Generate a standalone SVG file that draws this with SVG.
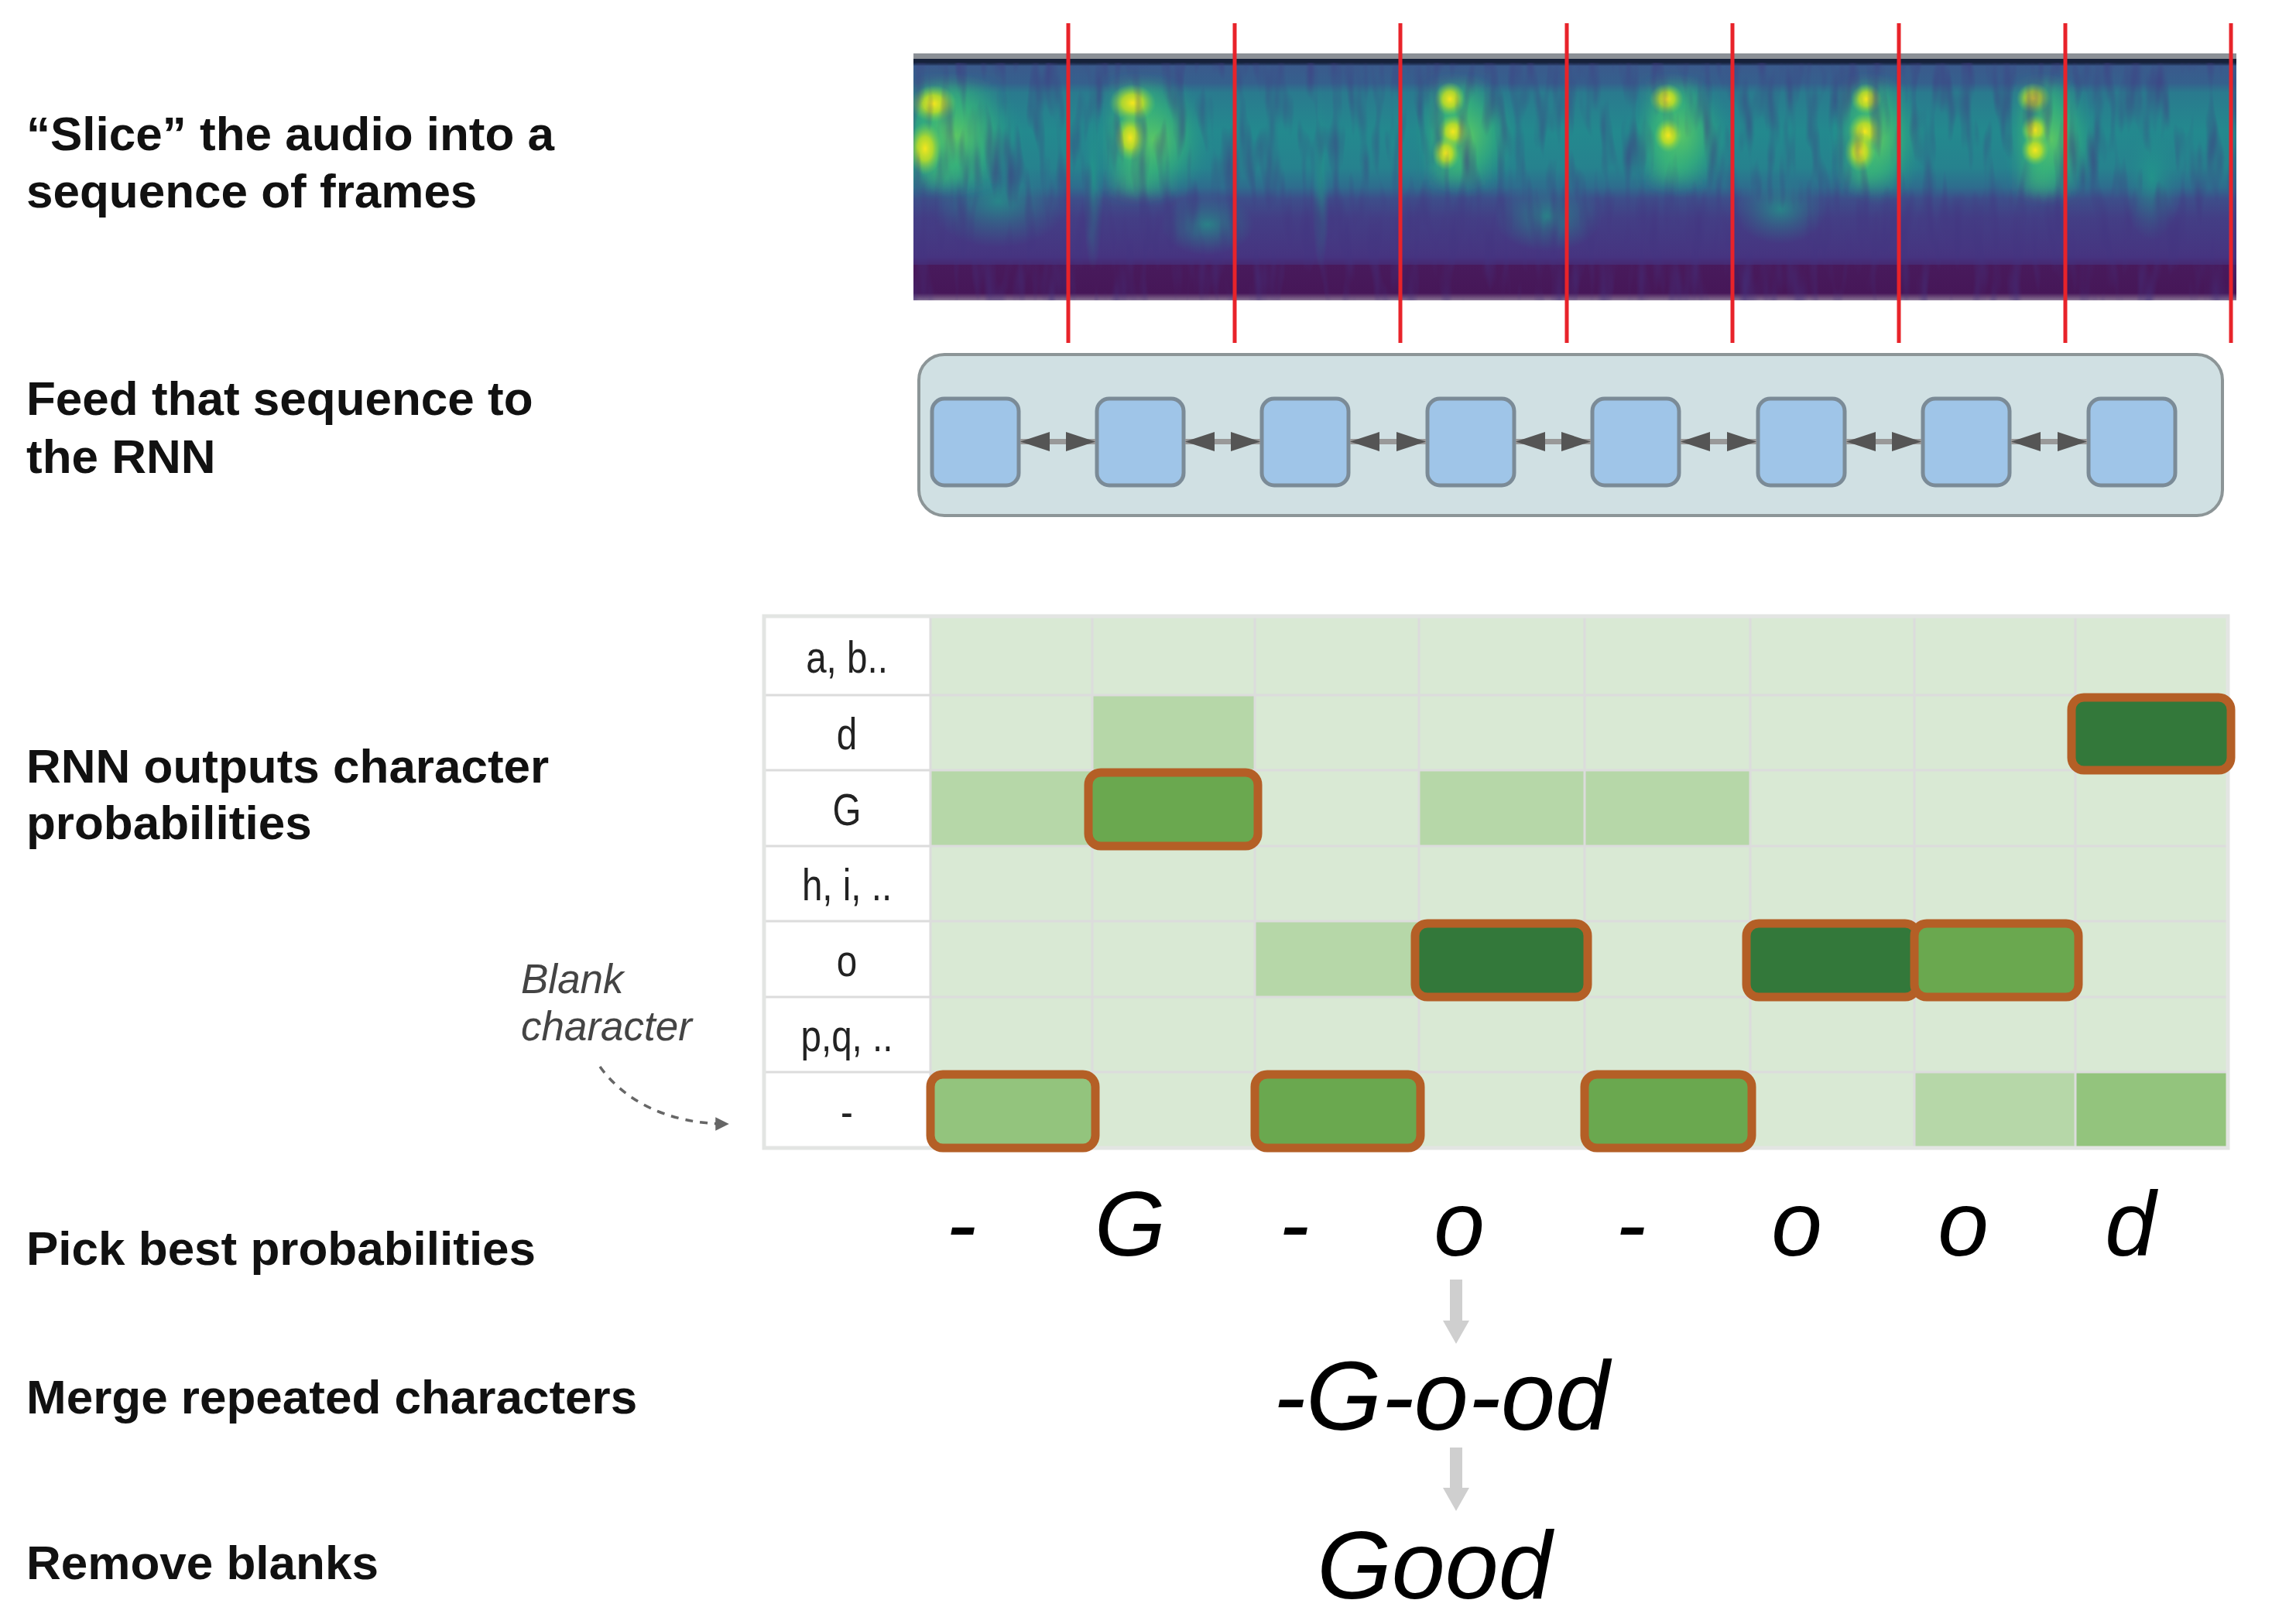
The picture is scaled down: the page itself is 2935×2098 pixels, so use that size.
<svg xmlns="http://www.w3.org/2000/svg" width="2935" height="2098" viewBox="0 0 2935 2098">
<style>
.lbl{font-family:"Liberation Sans",Arial,sans-serif;font-weight:bold;font-size:62px;fill:#111}
.note{font-family:"Liberation Sans",Arial,sans-serif;font-style:italic;font-size:53px;fill:#444}
.rowlbl{font-family:"Liberation Sans",Arial,sans-serif;font-size:58px;fill:#222;text-anchor:middle}
.out{font-family:"Liberation Sans",Arial,sans-serif;font-style:italic;fill:#000;text-anchor:middle}
.cell{stroke:none}
.L{fill:#d9e9d4}.ML{fill:#b6d7a8}.M{fill:#93c47d}.MD{fill:#6aa84f}.D{fill:#33783a}
.hl{stroke:#b45f26;stroke-width:11}
.rnncell{fill:#9fc5e8;stroke:#7b8b97;stroke-width:5}
.red{stroke:#e8232a;stroke-width:5}
.grid{stroke:#dcdcdc;stroke-width:3;fill:none}
.down{fill:#cfcfcf}
.band{fill:url(#vband);filter:url(#soft)}
</style>
<defs>
<linearGradient id="specBase" x1="0" y1="76" x2="0" y2="388" gradientUnits="userSpaceOnUse">
<stop offset="0" stop-color="#16203a"/>
<stop offset="0.02" stop-color="#1d2d4e"/>
<stop offset="0.03" stop-color="#3a5a8c"/>
<stop offset="0.10" stop-color="#35608d"/>
<stop offset="0.14" stop-color="#2a7a8e"/>
<stop offset="0.30" stop-color="#23898e"/>
<stop offset="0.45" stop-color="#26828e"/>
<stop offset="0.53" stop-color="#2e6d8e"/>
<stop offset="0.58" stop-color="#3d4e8a"/>
<stop offset="0.66" stop-color="#433e85"/>
<stop offset="0.82" stop-color="#463480"/>
<stop offset="0.85" stop-color="#481a5c"/>
<stop offset="0.97" stop-color="#461758"/>
<stop offset="1" stop-color="#8a7695"/>
</linearGradient>
<linearGradient id="vband" x1="0" y1="0" x2="1" y2="0">
<stop offset="0" stop-color="#35b779" stop-opacity="0"/>
<stop offset="0.35" stop-color="#4cc26c" stop-opacity="0.75"/>
<stop offset="0.6" stop-color="#3fbc73" stop-opacity="0.6"/>
<stop offset="1" stop-color="#35b779" stop-opacity="0"/>
</linearGradient>
<radialGradient id="burst">
<stop offset="0" stop-color="#5ec962" stop-opacity="0.9"/>
<stop offset="0.5" stop-color="#35b779" stop-opacity="0.55"/>
<stop offset="1" stop-color="#21918c" stop-opacity="0"/>
</radialGradient>
<radialGradient id="hot">
<stop offset="0" stop-color="#f4e61e" stop-opacity="1"/>
<stop offset="0.45" stop-color="#c2df23" stop-opacity="0.85"/>
<stop offset="1" stop-color="#6ece58" stop-opacity="0"/>
</radialGradient>
<radialGradient id="tealstreak">
<stop offset="0" stop-color="#1f9e89" stop-opacity="0.7"/>
<stop offset="1" stop-color="#26828e" stop-opacity="0"/>
</radialGradient>
<filter id="soft" x="-20%" y="-20%" width="140%" height="140%"><feGaussianBlur stdDeviation="10"/></filter>
<filter id="noise" x="0" y="0" width="100%" height="100%" color-interpolation-filters="sRGB">
<feTurbulence type="fractalNoise" baseFrequency="0.06 0.012" numOctaves="2" seed="7"/>
<feColorMatrix type="matrix" values="0 0 0 0 0.26  0 0 0 0 0.2  0 0 0 0 0.5  1.3 0 0 0 -0.6"/>
</filter>
<clipPath id="specClip"><rect x="1180" y="76" width="1709" height="312"/></clipPath>
<marker id="hd" viewBox="0 0 10 10" refX="9" refY="5" markerWidth="5" markerHeight="5" orient="auto"><path d="M0,0 L10,5 L0,10 z" fill="#666"/></marker>
</defs>

<g id="labels">
<g id="label-slice"><text class="lbl" x="34" y="194">“Slice” the audio into a</text><text class="lbl" x="34" y="268">sequence of frames</text></g>
<g id="label-feed"><text class="lbl" x="34" y="536">Feed that sequence to</text><text class="lbl" x="34" y="611">the RNN</text></g>
<g id="label-outputs"><text class="lbl" x="34" y="1011">RNN outputs character</text><text class="lbl" x="34" y="1084">probabilities</text></g>
<g id="label-pick"><text class="lbl" x="34" y="1634">Pick best probabilities</text></g>
<g id="label-merge"><text class="lbl" x="34" y="1826">Merge repeated characters</text></g>
<g id="label-remove"><text class="lbl" x="34" y="2040">Remove blanks</text></g>
<g id="label-blank"><text class="note" x="673" y="1283">Blank</text><text class="note" x="673" y="1344">character</text></g>
</g>

<g id="spectrogram">
<rect x="1180" y="69" width="1709" height="8" fill="#8b9096"/>
<g clip-path="url(#specClip)">
<rect x="1180" y="76" width="1709" height="312" fill="url(#specBase)"/>
<rect x="1180" y="330" width="1709" height="12" fill="#463480" opacity="0.6"/>
<ellipse cx="1412" cy="230" rx="14" ry="120" fill="url(#tealstreak)"/>
<ellipse cx="1706" cy="230" rx="12" ry="120" fill="url(#tealstreak)"/>
<ellipse cx="1560" cy="290" rx="60" ry="40" fill="url(#tealstreak)"/>
<ellipse cx="2000" cy="280" rx="70" ry="45" fill="url(#tealstreak)"/>
<ellipse cx="2300" cy="270" rx="60" ry="45" fill="url(#tealstreak)"/>
<ellipse cx="2780" cy="230" rx="40" ry="80" fill="url(#tealstreak)"/>
<ellipse cx="1290" cy="260" rx="90" ry="60" fill="url(#tealstreak)"/>
<rect class="band" x="1170" y="112" width="120" height="125"/>
<rect class="band" x="1430" y="112" width="90" height="135"/>
<rect class="band" x="1845" y="112" width="80" height="120"/>
<rect class="band" x="2125" y="112" width="80" height="120"/>
<rect class="band" x="2380" y="112" width="75" height="125"/>
<rect class="band" x="2605" y="112" width="75" height="135"/>
<ellipse cx="1235" cy="175" rx="90" ry="80" fill="url(#burst)"/>
<ellipse cx="1490" cy="180" rx="80" ry="85" fill="url(#burst)"/>
<ellipse cx="1895" cy="175" rx="70" ry="80" fill="url(#burst)"/>
<ellipse cx="2170" cy="175" rx="70" ry="80" fill="url(#burst)"/>
<ellipse cx="2425" cy="180" rx="65" ry="85" fill="url(#burst)"/>
<ellipse cx="2650" cy="180" rx="65" ry="85" fill="url(#burst)"/>
<ellipse cx="1206" cy="134" rx="30" ry="24" fill="url(#hot)"/>
<ellipse cx="1195" cy="192" rx="22" ry="34" fill="url(#hot)"/>
<ellipse cx="1463" cy="133" rx="30" ry="24" fill="url(#hot)"/>
<ellipse cx="1460" cy="178" rx="20" ry="30" fill="url(#hot)"/>
<ellipse cx="1873" cy="128" rx="20" ry="22" fill="url(#hot)"/>
<ellipse cx="1877" cy="170" rx="20" ry="22" fill="url(#hot)"/>
<ellipse cx="1868" cy="198" rx="18" ry="22" fill="url(#hot)"/>
<ellipse cx="2153" cy="128" rx="22" ry="20" fill="url(#hot)"/>
<ellipse cx="2155" cy="175" rx="18" ry="22" fill="url(#hot)"/>
<ellipse cx="2411" cy="128" rx="20" ry="20" fill="url(#hot)"/>
<ellipse cx="2409" cy="170" rx="22" ry="24" fill="url(#hot)"/>
<ellipse cx="2403" cy="196" rx="20" ry="26" fill="url(#hot)"/>
<ellipse cx="2627" cy="127" rx="22" ry="20" fill="url(#hot)"/>
<ellipse cx="2629" cy="168" rx="18" ry="20" fill="url(#hot)"/>
<ellipse cx="2629" cy="194" rx="18" ry="20" fill="url(#hot)"/>
<rect x="1180" y="76" width="1709" height="312" filter="url(#noise)"/>
<rect x="1180" y="76" width="1709" height="5" fill="#16213a"/>
</g>
</g>

<g id="frame-slices">
<line class="red" x1="1380" y1="30" x2="1380" y2="443"/>
<line class="red" x1="1595" y1="30" x2="1595" y2="443"/>
<line class="red" x1="1809" y1="30" x2="1809" y2="443"/>
<line class="red" x1="2024" y1="30" x2="2024" y2="443"/>
<line class="red" x1="2238" y1="30" x2="2238" y2="443"/>
<line class="red" x1="2453" y1="30" x2="2453" y2="443"/>
<line class="red" x1="2668" y1="30" x2="2668" y2="443"/>
<line class="red" x1="2882" y1="30" x2="2882" y2="443"/>
</g>

<g id="rnn">
<rect x="1187" y="458" width="1684" height="208" rx="33" fill="#d0e0e3" stroke="#8c9597" stroke-width="4"/>
<g id="rnn-cell-1"><rect class="rnncell" x="1204" y="515" width="112" height="112" rx="16"/></g>
<g id="rnn-cell-2"><rect class="rnncell" x="1417" y="515" width="112" height="112" rx="16"/></g>
<g id="rnn-cell-3"><rect class="rnncell" x="1630" y="515" width="112" height="112" rx="16"/></g>
<g id="rnn-cell-4"><rect class="rnncell" x="1844" y="515" width="112" height="112" rx="16"/></g>
<g id="rnn-cell-5"><rect class="rnncell" x="2057" y="515" width="112" height="112" rx="16"/></g>
<g id="rnn-cell-6"><rect class="rnncell" x="2271" y="515" width="112" height="112" rx="16"/></g>
<g id="rnn-cell-7"><rect class="rnncell" x="2484" y="515" width="112" height="112" rx="16"/></g>
<g id="rnn-cell-8"><rect class="rnncell" x="2698" y="515" width="112" height="112" rx="16"/></g>
</g>

<g id="grid">
<rect x="987" y="796" width="1891" height="687" fill="#d9e9d4"/>
<rect x="987" y="796" width="215" height="687" fill="#ffffff"/>
<rect class="cell ML" x="1411" y="898" width="210" height="97"/>
<rect class="cell ML" x="1202" y="995" width="209" height="98"/>
<rect class="cell ML" x="1833" y="995" width="214" height="98"/>
<rect class="cell ML" x="2047" y="995" width="214" height="98"/>
<rect class="cell ML" x="1621" y="1190" width="212" height="98"/>
<rect class="cell ML" x="2473" y="1385" width="208" height="98"/>
<rect class="cell M" x="2681" y="1385" width="197" height="98"/>
<g class="grid">
<line x1="1202" y1="796" x2="1202" y2="1483"/>
<line x1="1411" y1="796" x2="1411" y2="1483"/>
<line x1="1621" y1="796" x2="1621" y2="1483"/>
<line x1="1833" y1="796" x2="1833" y2="1483"/>
<line x1="2047" y1="796" x2="2047" y2="1483"/>
<line x1="2261" y1="796" x2="2261" y2="1483"/>
<line x1="2473" y1="796" x2="2473" y2="1483"/>
<line x1="2681" y1="796" x2="2681" y2="1483"/>
<line x1="987" y1="898" x2="2878" y2="898"/>
<line x1="987" y1="995" x2="2878" y2="995"/>
<line x1="987" y1="1093" x2="2878" y2="1093"/>
<line x1="987" y1="1190" x2="2878" y2="1190"/>
<line x1="987" y1="1288" x2="2878" y2="1288"/>
<line x1="987" y1="1385" x2="2878" y2="1385"/>
<rect x="987" y="796" width="1891" height="687" stroke="#e3e5e3" stroke-width="5"/>
</g>
<g id="row-labels">
<text class="rowlbl" transform="translate(1094 869) scale(0.82 1)">a, b..</text>
<text class="rowlbl" transform="translate(1094 968) scale(0.82 1)">d</text>
<text class="rowlbl" transform="translate(1094 1066) scale(0.82 1)">G</text>
<text class="rowlbl" transform="translate(1094 1163) scale(0.82 1)">h, i, ..</text>
<text class="rowlbl" transform="translate(1094 1261) scale(0.82 1)">o</text>
<text class="rowlbl" transform="translate(1094 1358) scale(0.82 1)">p,q, ..</text>
<text class="rowlbl" transform="translate(1094 1456) scale(0.82 1)">-</text>
</g>
<g id="best-picks">
<rect class="hl D" x="2676" y="901" width="206" height="94" rx="16"/>
<rect class="hl MD" x="1406" y="998" width="219" height="95" rx="16"/>
<rect class="hl D" x="1828" y="1193" width="223" height="95" rx="16"/>
<rect class="hl D" x="2256" y="1193" width="221" height="95" rx="16"/>
<rect class="hl MD" x="2473" y="1193" width="212" height="95" rx="16"/>
<rect class="hl M" x="1202" y="1388" width="213" height="95" rx="16"/>
<rect class="hl MD" x="1621" y="1388" width="214" height="95" rx="16"/>
<rect class="hl MD" x="2047" y="1388" width="216" height="95" rx="16"/>
</g>
</g>

<g id="best-sequence">
<text class="out" font-size="118" x="1242" y="1622">-</text>
<text class="out" font-size="118" x="1460" y="1622">G</text>
<text class="out" font-size="118" x="1672" y="1622">-</text>
<text class="out" font-size="118" x="1885" y="1622">o</text>
<text class="out" font-size="118" x="2107" y="1622">-</text>
<text class="out" font-size="118" x="2321" y="1622">o</text>
<text class="out" font-size="118" x="2536" y="1622">o</text>
<text class="out" font-size="118" x="2752" y="1622">d</text>
</g>
<g id="merged"><text class="out" font-size="126" x="1862" y="1847">-G-o-od</text></g>
<g id="result"><text class="out" font-size="124" x="1853" y="2065">Good</text></g>

<g id="connectors">
<g id="rnn-links" fill="#555">
<g id="link-1"><rect x="1318" y="567" width="97" height="7" fill="#999"/><path d="M1318,570.5 L1356,558 L1356,583 z"/><path d="M1415,570.5 L1377,558 L1377,583 z"/></g>
<g id="link-2"><rect x="1531" y="567" width="97" height="7" fill="#999"/><path d="M1531,570.5 L1569,558 L1569,583 z"/><path d="M1628,570.5 L1590,558 L1590,583 z"/></g>
<g id="link-3"><rect x="1744" y="567" width="98" height="7" fill="#999"/><path d="M1744,570.5 L1782,558 L1782,583 z"/><path d="M1842,570.5 L1804,558 L1804,583 z"/></g>
<g id="link-4"><rect x="1958" y="567" width="97" height="7" fill="#999"/><path d="M1958,570.5 L1996,558 L1996,583 z"/><path d="M2055,570.5 L2017,558 L2017,583 z"/></g>
<g id="link-5"><rect x="2171" y="567" width="98" height="7" fill="#999"/><path d="M2171,570.5 L2209,558 L2209,583 z"/><path d="M2269,570.5 L2231,558 L2231,583 z"/></g>
<g id="link-6"><rect x="2385" y="567" width="97" height="7" fill="#999"/><path d="M2385,570.5 L2423,558 L2423,583 z"/><path d="M2482,570.5 L2444,558 L2444,583 z"/></g>
<g id="link-7"><rect x="2598" y="567" width="98" height="7" fill="#999"/><path d="M2598,570.5 L2636,558 L2636,583 z"/><path d="M2696,570.5 L2658,558 L2658,583 z"/></g>
</g>
<path id="blank-arrow" d="M775,1378 C805,1420 860,1452 940,1452" fill="none" stroke="#666" stroke-width="3.5" stroke-dasharray="10 9" marker-end="url(#hd)"/>
<path id="down-1" class="down" d="M1873,1653 L1889,1653 L1889,1706 L1898,1706 L1881,1736 L1864,1706 L1873,1706 z"/>
<path id="down-2" class="down" d="M1873,1870 L1889,1870 L1889,1922 L1898,1922 L1881,1952 L1864,1922 L1873,1922 z"/>
</g>
</svg>
